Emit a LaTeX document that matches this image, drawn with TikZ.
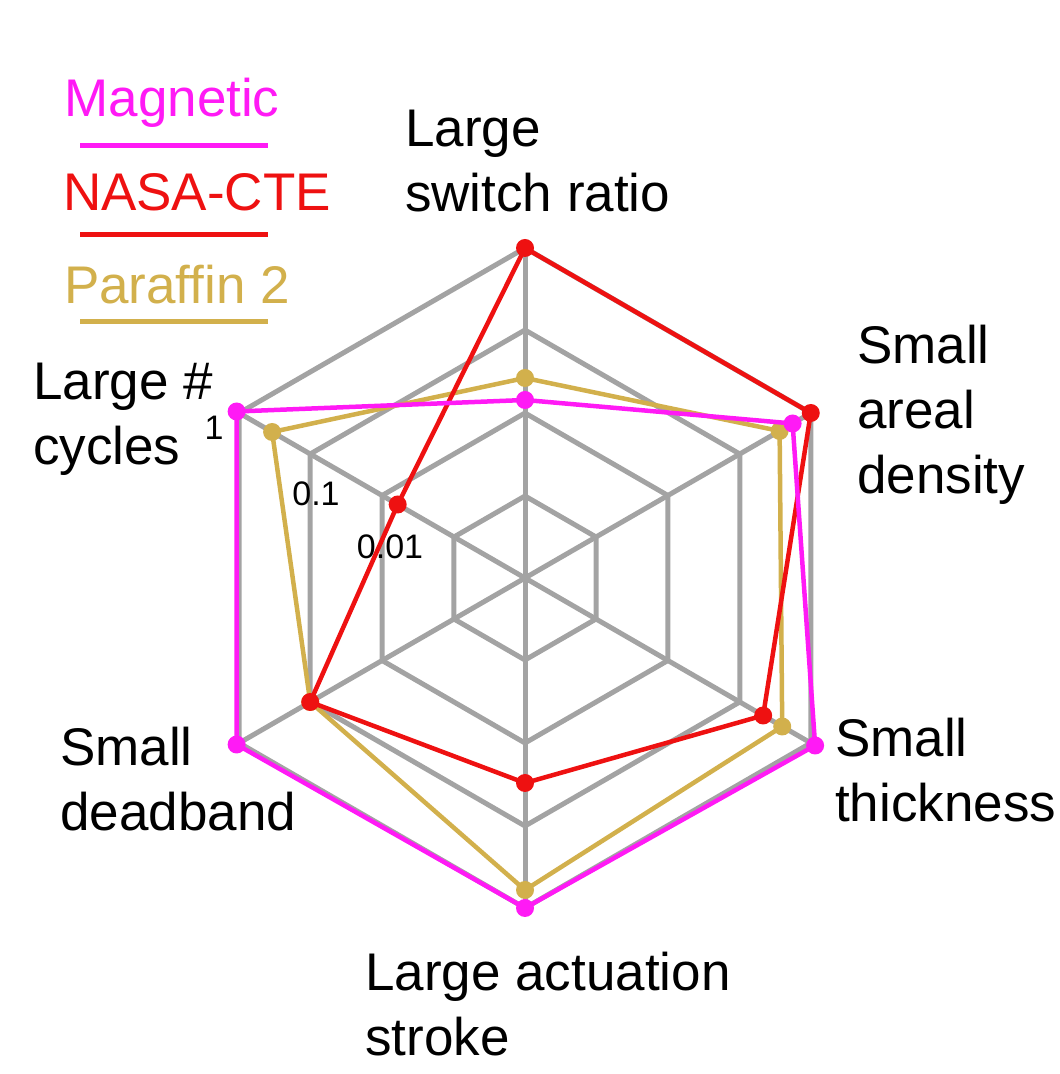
\documentclass[tikz,border=0pt]{standalone}
\usepackage{fontspec}
\setmainfont{Liberation Sans}
\usetikzlibrary{calc}
\definecolor{mag}{HTML}{FF1AF5}
\definecolor{rd}{HTML}{EE1111}
\definecolor{gd}{HTML}{D2B04C}
\definecolor{gr}{HTML}{A3A3A3}
\begin{document}
\begin{tikzpicture}[x=1pt,y=1pt,
  grid/.style={gr,line width=5pt},
  ser/.style={line width=4.5pt,line join=round},
  lab/.style={font=\fontsize{53}{65}\selectfont,align=left,inner sep=0pt},
  tick/.style={font=\fontsize{34}{38}\selectfont,inner sep=0pt}]
\useasboundingbox (0,0) rectangle (1060,1074);
\coordinate (c) at (525,496);
\foreach \r in {82,165,248,330}{
  \draw[grid] ($(c)+(90:\r)$) \foreach \a in {30,-30,-90,-150,-210}{ -- ($(c)+(\a:\r)$)} -- cycle;
}
\foreach \a in {90,30,-30,-90,-150,-210}{\draw[grid] (c) -- ++(\a:330);}
% series
\newcommand{\series}[7]{%
  \draw[ser,#1] ($(c)+(90:#2)$) -- ($(c)+(30:#3)$) -- ($(c)+(-30:#4)$) -- ($(c)+(-90:#5)$) -- ($(c)+(210:#6)$) -- ($(c)+(150:#7)$) -- cycle;
  \foreach \a/\r in {90/#2,30/#3,-30/#4,-90/#5,210/#6,150/#7}{\fill[#1] ($(c)+(\a:\r)$) circle (9);}}
\series{gd}{200}{294}{297}{312}{248}{292}
\series{rd}{330}{330}{275}{205}{248}{147}
\series{mag}{178}{309}{335}{330}{333}{333}
% tick labels
\node[tick] (t1) at (214,646) {1};
\node[tick] (t2) at (316,580) {0.1};
\node[tick] (t3) at (390,527) {0.01};
% axis labels
\node[lab,anchor=north west] (l1) at (405,964) {Large\\switch ratio};
\node[lab,anchor=north west] (l2) at (857,749) {Small\\areal\\density};
\node[lab,anchor=north west] (l3) at (835,356) {Small\\thickness};
\node[lab,anchor=north west] (l4) at (365,122) {Large actuation\\stroke};
\node[lab,anchor=north west] (l5) at (60,347) {Small\\deadband};
\node[lab,anchor=north west] (l6) at (33,711) {Large \#\\cycles};
% legend
\node[lab,mag] (g1) at (172,971) {Magnetic};
\draw[mag,line width=5pt] (80,928) -- (268,928);
\node[lab,rd] (g2) at (197,882) {NASA-CTE};
\draw[rd,line width=5pt] (80,839) -- (268,839);
\node[lab,gd] (g3) at (177,789) {Paraffin 2};
\draw[gd,line width=5pt] (80,752) -- (268,752);
\end{tikzpicture}
\end{document}
